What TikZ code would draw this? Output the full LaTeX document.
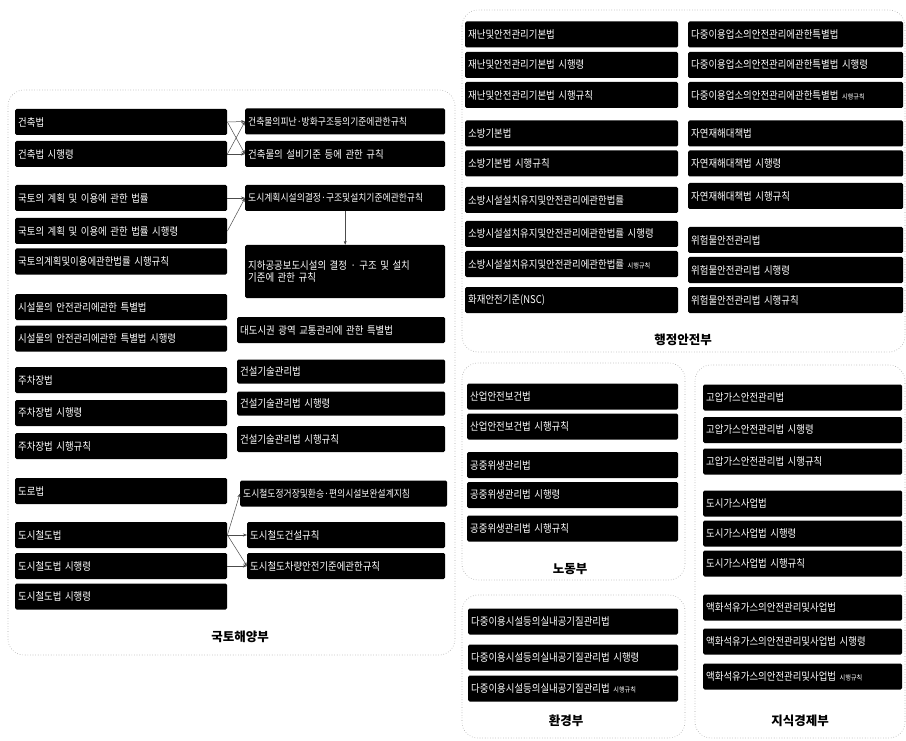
\documentclass[tikz,border=0pt]{standalone}
\usepackage{fontspec}
\setmainfont{Noto Sans CJK KR}
\newfontfamily\lawfamily[FakeStretch=0.88]{Noto Sans CJK KR}
\usepackage{tikz}
\usetikzlibrary{arrows.meta}
\newcommand{\lawfont}{\lawfamily\fontsize{10.7}{12}\selectfont}
\newcommand{\smallfont}{\lawfamily\fontsize{10}{11}\selectfont}
\newcommand{\sm}[1]{{\fontsize{7}{7}\selectfont #1}}
\newcommand{\deptfont}{\fontsize{12.5}{14}\selectfont\bfseries}

\tikzset{
    law/.style={fill=black, text=white, rounded corners=1.5pt, inner xsep=3pt, inner ysep=0pt,
        minimum height=26pt, anchor=west, align=left, font=\lawfont},
    panel/.style={draw=gray!70, dotted, line width=0.6pt, rounded corners=16pt},
    dept/.style={font=\deptfont, text=black},
    link/.style={draw=black!70, line width=0.5pt, -{Stealth[length=4pt, width=3pt]}}
}

\begin{document}
\begin{tikzpicture}[x=1pt, y=-1pt]
    \useasboundingbox (0,0) rectangle (906,741);
    \fill[white] (0,0) rectangle (906,741);

    % Panels
    \draw[panel] (8,90) rectangle (455,655);
    \draw[panel] (462,10) rectangle (905,352);
    \draw[panel] (462,363) rectangle (685,580);
    \draw[panel] (462,595) rectangle (685,738);
    \draw[panel] (695,365) rectangle (905,738);

    % Department labels
    \node[dept] (mltm) at (240,637) {국토해양부};
    \node[dept] (mopas) at (683,340) {행정안전부};
    \node[dept] (mol) at (570,569) {노동부};
    \node[dept] (me) at (566,721) {환경부};
    \node[dept] (mke) at (800,721) {지식경제부};

    % --- 국토해양부: left column
    \node[law, text width=206pt] (gA) at (15,122) {건축법};
    \node[law, text width=206pt] (gB) at (15,154) {건축법 시행령};
    \node[law, text width=206pt] (gC) at (15,198) {국토의 계획 및 이용에 관한 법률};
    \node[law, text width=206pt] (gD) at (15,231) {국토의 계획 및 이용에 관한 법률 시행령};
    \node[law, text width=206pt] (gE) at (15,261.5) {국토의계획및이용에관한법률 시행규칙};
    \node[law, text width=206pt] (gF) at (15,307) {시설물의 안전관리에관한 특별법};
    \node[law, text width=206pt] (gG) at (15,338.5) {시설물의 안전관리에관한 특별법 시행령};
    \node[law, text width=206pt] (gH) at (15,380) {주차장법};
    \node[law, text width=206pt] (gI) at (15,413) {주차장법 시행령};
    \node[law, text width=206pt] (gJ) at (15,446) {주차장법 시행규칙};
    \node[law, text width=206pt] (gK) at (15,491) {도로법};
    \node[law, text width=206pt] (gL) at (15,535) {도시철도법};
    \node[law, text width=206pt] (gM) at (15,566) {도시철도법 시행령};
    \node[law, text width=206pt] (gN) at (15,596.5) {도시철도법 시행령};

    % --- 국토해양부: right column
    \node[law, text width=194pt, font=\smallfont] (rA) at (245,121.5) {건축물의피난·방화구조등의기준에관한규칙};
    \node[law, text width=194pt] (rB) at (245,154) {건축물의 설비기준 등에 관한 규칙};
    \node[law, text width=194pt, font=\smallfont] (rC) at (245,198) {도시계획시설의결정·구조및설치기준에관한규칙};
    \node[law, text width=194pt, minimum height=53pt] (rD) at (245,271.5) {지하공공보도시설의 결정 · 구조 및 설치\\기준에 관한 규칙};
    \node[law, text width=202pt] (rE) at (237,330) {대도시권 광역 교통관리에 관한 특별법};
    \node[law, text width=202pt, minimum height=24pt] (rF) at (237,371.5) {건설기술관리법};
    \node[law, text width=202pt, minimum height=24pt] (rG) at (237,403.5) {건설기술관리법 시행령};
    \node[law, text width=202pt] (rH) at (237,439) {건설기술관리법 시행규칙};
    \node[law, text width=201pt, font=\smallfont] (rI) at (240,493.5) {도시철도정거장및환승·편의시설보완설계지침};
    \node[law, text width=192pt] (rJ) at (247,535) {도시철도건설규칙};
    \node[law, text width=192pt] (rK) at (247,566) {도시철도차량안전기준에관한규칙};

    % Links
    \draw[link] (gA.east) -- (rA.west);
    \draw[link] (gA.east) -- (rB.west);
    \draw[link] (gB.east) -- (rB.west);
    \draw[link] (gB.east) -- (rA.west);
    \draw[link] (gC.east) -- (rC.west);
    \draw[link] (gD.east) -- (rC.west);
    \draw[link] (rC.south) -- (rD.north);
    \draw[link] (gL.east) -- (rI.west);
    \draw[link] (gL.east) -- (rJ.west);
    \draw[link] (gL.east) -- (rK.west);
    \draw[link] (gM.east) -- (rK.west);

    % --- 행정안전부
    \node[law, text width=207pt] (s1) at (465,34.5) {재난및안전관리기본법};
    \node[law, text width=207pt] (s2) at (465,65) {재난및안전관리기본법 시행령};
    \node[law, text width=207pt] (s3) at (465,95) {재난및안전관리기본법 시행규칙};
    \node[law, text width=207pt] (s4) at (465,133.5) {소방기본법};
    \node[law, text width=207pt] (s5) at (465,163.5) {소방기본법 시행규칙};
    \node[law, text width=207pt] (s6) at (465,200) {소방시설설치유지및안전관리에관한법률};
    \node[law, text width=207pt] (s7) at (465,234) {소방시설설치유지및안전관리에관한법률 시행령};
    \node[law, text width=207pt] (s8) at (465,264) {소방시설설치유지및안전관리에관한법률 \sm{시행규칙}};
    \node[law, text width=207pt] (s9) at (465,300) {화재안전기준(NSC)};

    \node[law, text width=209pt] (t1) at (688,34.5) {다중이용업소의안전관리에관한특별법};
    \node[law, text width=209pt] (t2) at (688,65) {다중이용업소의안전관리에관한특별법 시행령};
    \node[law, text width=209pt] (t3) at (688,95) {다중이용업소의안전관리에관한특별법 \sm{시행규칙}};
    \node[law, text width=209pt] (t4) at (688,133.5) {자연재해대책법};
    \node[law, text width=209pt] (t5) at (688,163.5) {자연재해대책법 시행령};
    \node[law, text width=209pt] (t6) at (688,196) {자연재해대책법 시행규칙};
    \node[law, text width=209pt] (t7) at (688,240) {위험물안전관리법};
    \node[law, text width=209pt] (t8) at (688,270) {위험물안전관리법 시행령};
    \node[law, text width=209pt] (t9) at (688,300) {위험물안전관리법 시행규칙};

    % --- 노동부
    \node[law, text width=205pt] (n1) at (467,396.5) {산업안전보건법};
    \node[law, text width=205pt] (n2) at (467,426.5) {산업안전보건법 시행규칙};
    \node[law, text width=205pt] (n3) at (467,465) {공중위생관리법};
    \node[law, text width=205pt] (n4) at (467,495) {공중위생관리법 시행령};
    \node[law, text width=205pt] (n5) at (467,528.5) {공중위생관리법 시행규칙};

    % --- 환경부
    \node[law, text width=204pt] (e1) at (468,621.5) {다중이용시설등의실내공기질관리법};
    \node[law, text width=204pt] (e2) at (468,657.5) {다중이용시설등의실내공기질관리법 시행령};
    \node[law, text width=204pt] (e3) at (468,688.5) {다중이용시설등의실내공기질관리법 \sm{시행규칙}};

    % --- 지식경제부
    \node[law, text width=193pt] (k1) at (703,397.5) {고압가스안전관리법};
    \node[law, text width=193pt] (k2) at (703,430) {고압가스안전관리법 시행령};
    \node[law, text width=193pt] (k3) at (703,461.5) {고압가스안전관리법 시행규칙};
    \node[law, text width=193pt] (k4) at (703,503.5) {도시가스사업법};
    \node[law, text width=193pt] (k5) at (703,533.5) {도시가스사업법 시행령};
    \node[law, text width=193pt] (k6) at (703,563.5) {도시가스사업법 시행규칙};
    \node[law, text width=193pt] (k7) at (703,607.5) {액화석유가스의안전관리및사업법};
    \node[law, text width=193pt] (k8) at (703,641.5) {액화석유가스의안전관리및사업법 시행령};
    \node[law, text width=193pt] (k9) at (703,676.5) {액화석유가스의안전관리및사업법 \sm{시행규칙}};
\end{tikzpicture}
\end{document}
